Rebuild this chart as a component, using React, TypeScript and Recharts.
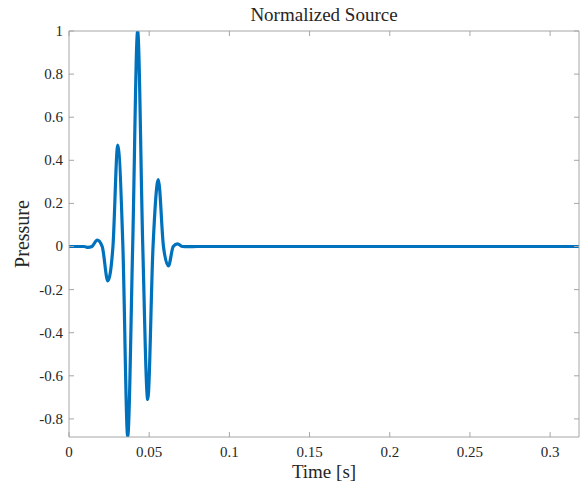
import { LineChart, Line, XAxis, YAxis, Label } from 'recharts'

// values (time in s, normalized pressure)
const time = [
  0, 0.005, 0.0095, 0.0118, 0.0143, 0.0176, 0.0207, 0.0242, 0.0274, 0.0304,
  0.0336, 0.0366, 0.0397, 0.0428, 0.046, 0.0491, 0.0524, 0.0557, 0.0589, 0.062,
  0.065, 0.0677, 0.0708, 0.074, 0.08, 0.15, 0.25, 0.318,
]
const pressure = [
  0, 0, 0, -0.004, 0, 0.03, 0, -0.16, 0, 0.47,
  0, -0.88, 0, 1, 0, -0.71, 0, 0.31, 0, -0.09,
  0, 0.012, 0, -0.001, 0, 0, 0, 0,
]
const xTicks = [0, 0.05, 0.1, 0.15, 0.2, 0.25, 0.3]
const yTicks = [-0.8, -0.6, -0.4, -0.2, 0, 0.2, 0.4, 0.6, 0.8, 1]
const xDomain = [0, 0.318]
const yDomain = [-0.884, 1]

const data = time.map((t, i) => ({ t, p: pressure[i] }))

const FONT = 'Liberation Serif'
const TEXT = '#262626'
const BOX = '#a6a6a6'
const TICK_LEN = 5
const X_GAP = 6
const Y_GAP = 6

const labelStyle = { fontFamily: FONT, fontSize: 15, fill: TEXT }

const BottomTick = ({ x, y, payload }: any) => {
  const axisY = y - X_GAP
  return (
    <g>
      <line x1={x} x2={x} y1={axisY} y2={axisY - TICK_LEN} stroke={BOX} />
      <text x={x} y={y} dy={14} textAnchor="middle" fontFamily={FONT} style={labelStyle}>
        {String(payload.value)}
      </text>
    </g>
  )
}

const LeftTick = ({ x, y, payload }: any) => {
  const axisX = x + Y_GAP
  return (
    <g>
      <line x1={axisX} x2={axisX + TICK_LEN} y1={y} y2={y} stroke={BOX} />
      <text x={x} y={y} dy={5} textAnchor="end" fontFamily={FONT} style={labelStyle}>
        {String(payload.value)}
      </text>
    </g>
  )
}

const TopTick = ({ x, y }: any) => (
  <line x1={x} x2={x} y1={y} y2={y + TICK_LEN} stroke={BOX} />
)

const RightTick = ({ x, y }: any) => (
  <line x1={x} x2={x - TICK_LEN} y1={y} y2={y} stroke={BOX} />
)

export default function App() {
  return (
    <div style={{ position: 'absolute', left: 0, top: 0, background: '#fff', fontFamily: FONT }}>
      <LineChart
        width={585}
        height={487}
        data={data}
        margin={{ top: 30, right: 5, bottom: 0, left: 20 }}
        style={{ fontFamily: FONT }}
      >
        <XAxis
          dataKey="t"
          type="number"
          domain={xDomain}
          ticks={xTicks}
          allowDataOverflow
          height={50}
          tickSize={0}
          tickMargin={X_GAP}
          tickLine={false}
          axisLine={{ stroke: BOX }}
          tick={<BottomTick />}
        >
          <Label
            value="Time [s]"
            position="insideBottom"
            offset={9}
            fill={TEXT}
            fontSize={19}
            fontFamily={FONT}
            style={{ fontFamily: FONT }}
          />
        </XAxis>
        <XAxis
          xAxisId="top"
          dataKey="t"
          type="number"
          orientation="top"
          domain={xDomain}
          ticks={xTicks}
          allowDataOverflow
          height={1}
          tickSize={0}
          tickMargin={0}
          tickLine={false}
          axisLine={{ stroke: BOX }}
          tick={<TopTick />}
        >
          <Label
            value="Normalized Source"
            position="top"
            offset={9}
            fill={TEXT}
            fontSize={19}
            fontFamily={FONT}
            style={{ fontFamily: FONT }}
          />
        </XAxis>
        <YAxis
          type="number"
          domain={yDomain}
          ticks={yTicks}
          allowDataOverflow
          width={49}
          tickSize={0}
          tickMargin={Y_GAP}
          tickLine={false}
          axisLine={{ stroke: BOX }}
          tick={<LeftTick />}
        >
          <Label
            value="Pressure"
            angle={-90}
            position="insideLeft"
            offset={2}
            fill={TEXT}
            fontSize={20}
            fontFamily={FONT}
            style={{ textAnchor: 'middle', fontFamily: FONT }}
          />
        </YAxis>
        <YAxis
          yAxisId="right"
          type="number"
          orientation="right"
          domain={yDomain}
          ticks={yTicks}
          allowDataOverflow
          width={1}
          tickSize={0}
          tickMargin={0}
          tickLine={false}
          axisLine={{ stroke: BOX }}
          tick={<RightTick />}
        />
        {/* invisible twin so the mirrored top/right axes get drawn */}
        <Line
          xAxisId="top"
          yAxisId="right"
          dataKey="p"
          type="monotone"
          stroke="none"
          dot={false}
          legendType="none"
          isAnimationActive={false}
        />
        <Line
          dataKey="p"
          type="monotone"
          stroke="#0072BD"
          strokeWidth={3.2}
          dot={false}
          isAnimationActive={false}
        />
      </LineChart>
    </div>
  )
}
